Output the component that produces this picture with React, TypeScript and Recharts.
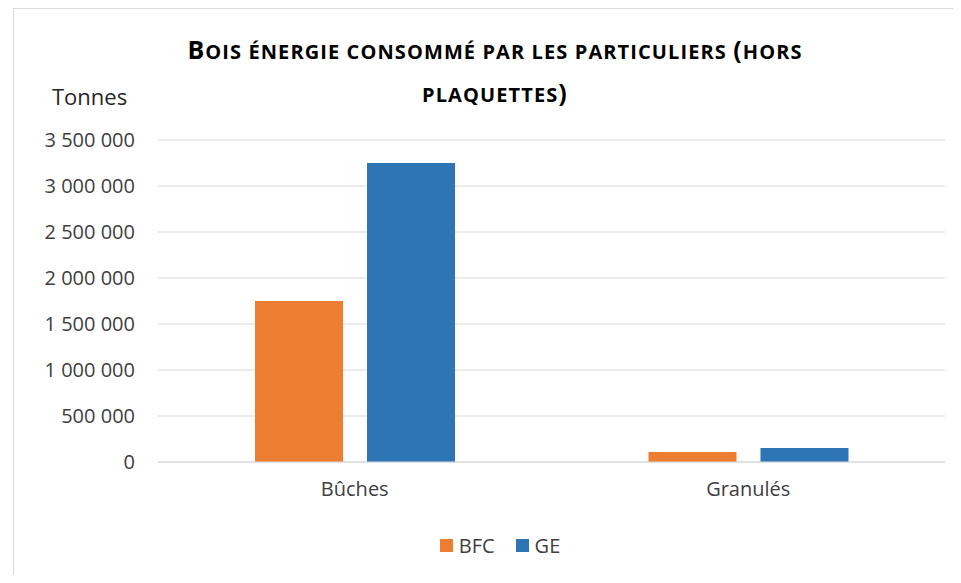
import React from "react";
import { BarChart, Bar, XAxis, YAxis, CartesianGrid } from "recharts";

const categories = ["Bûches", "Granulés"];
const bfcValues = [1750000, 108000];
const geValues = [3250000, 152000];
const yTicks = [0, 500000, 1000000, 1500000, 2000000, 2500000, 3000000, 3500000];
const seriesNames = ["BFC", "GE"];
const seriesColors = ["#ED7D31", "#2E75B6"];
const titleLines = ["BOIS ÉNERGIE CONSOMMÉ PAR LES PARTICULIERS (HORS", "PLAQUETTES)"];

const data = categories.map((c, i) => ({ name: c, BFC: bfcValues[i], GE: geValues[i] }));

const fmt = (v: number) => v.toString().replace(/\B(?=(\d{3})+(?!\d))/g, " ");

const FONT = "'Open Sans', 'Liberation Sans', sans-serif";
const BIG = 25;

// render title line with large capitals for first letter and parentheses
const renderLine = (line: string, first: boolean) => {
  const parts: React.ReactNode[] = [];
  let buf = "";
  const chars = Array.from(line);
  chars.forEach((ch, idx) => {
    const big = (first && idx === 0) || ch === "(" || ch === ")";
    if (big) {
      if (buf) parts.push(buf);
      buf = "";
      parts.push(<span key={idx} style={{ fontSize: BIG }}>{ch}</span>);
    } else {
      buf += ch;
    }
  });
  if (buf) parts.push(buf);
  return parts;
};

export default function App() {
  return (
    <div style={{ position: "relative", width: 961, height: 583, margin: -8, background: "#fff", fontFamily: FONT, overflow: "hidden" }}>
      <div style={{ position: "absolute", left: 13, top: 8, width: 960, height: 572, border: "1px solid #d9d9d9", boxSizing: "border-box" }} />
      <div style={{ position: "absolute", left: 0, top: 0 }}>
        <BarChart width={961} height={583} data={data} margin={{ top: 140, right: 16, bottom: 91, left: 0 }} barGap={24} barSize={88}>
          <CartesianGrid vertical={false} stroke="#d9d9d9" />
          <XAxis dataKey="name" height={30} axisLine={{ stroke: "#d9d9d9" }} tickLine={false} tickSize={0} tickMargin={20} tick={{ fill: "#404040", fontSize: 20, fontFamily: FONT }} />
          <YAxis width={158} domain={[0, 3500000]} ticks={yTicks} tickFormatter={fmt} axisLine={false} tickLine={false} tickSize={0} tickMargin={23} tick={{ fill: "#404040", fontSize: 20, fontFamily: FONT }} interval={0} />
          {seriesNames.map((s, i) => (
            <Bar key={s} dataKey={s} fill={seriesColors[i]} isAnimationActive={false} />
          ))}
        </BarChart>
      </div>
      <div style={{ position: "absolute", left: 52, top: 81, fontSize: 22, color: "#262626" }}>Tonnes</div>
      <div style={{ position: "absolute", left: 95, width: 800, top: 29, textAlign: "center", fontWeight: 700, color: "#000", lineHeight: "41px", letterSpacing: 1.1 }}>
        {titleLines.map((line, i) => (
          <div key={i} style={{ fontSize: 20 }}>
            {renderLine(line, i === 0)}
          </div>
        ))}
      </div>
      <div style={{ position: "absolute", left: 0, width: 1000, top: 532, display: "flex", justifyContent: "center", alignItems: "center", fontSize: 20, color: "#404040" }}>
        {seriesNames.map((s, i) => (
          <div key={s} style={{ display: "flex", alignItems: "center", marginRight: i === 0 ? 21 : 0 }}>
            <div style={{ width: 13, height: 13, background: seriesColors[i], marginRight: 6 }} />
            <span>{s}</span>
          </div>
        ))}
      </div>
    </div>
  );
}
